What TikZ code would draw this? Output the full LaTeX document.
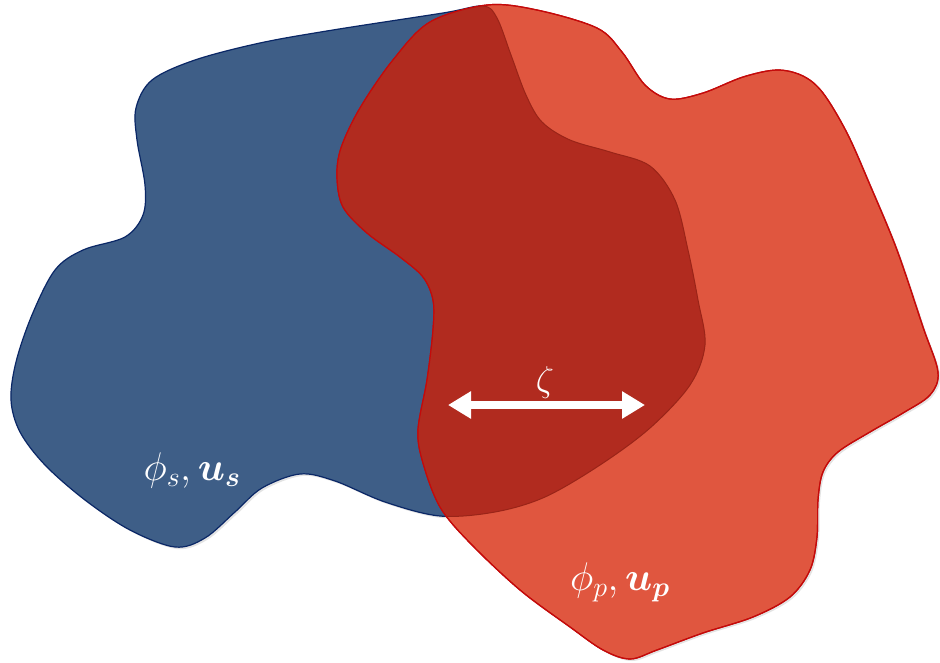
\RequirePackage{fix-cm}
\documentclass[tikz,border=0pt]{standalone}
\usepackage{amsmath,bm}
\usetikzlibrary{arrows.meta,shadows}
\definecolor{bluefill}{HTML}{3E5E87}
\definecolor{blueline}{HTML}{0A2766}
\definecolor{redfill}{HTML}{E0563F}
\definecolor{redline}{HTML}{C40A0A}
\definecolor{overlap}{HTML}{B12B1F}
\definecolor{overlapline}{HTML}{9A2418}
\tikzset{
  blob/.style={line width=1.2pt, drop shadow={opacity=0.22, shadow xshift=2pt, shadow yshift=-2pt}},
  lbl/.style={text=white, inner sep=0pt},
  zarrow/.style={white, line width=8pt, {Triangle[length=23pt,width=26pt]}-{Triangle[length=23pt,width=26pt]}}
}
\def\bluepath{plot[smooth cycle, tension=0.55] coordinates {
 (483,6) (443,13) (333,30) (260,43) (195,60) (152,80) (136,108) (137,140) (145,185) (143,215) (125,237) (83,250) (55,270) (32,315) (16,362) (11,400) (20,432) (45,465) (85,500) (130,530) (175,547) (205,538) (235,512) (262,488) (300,474) (335,481) (385,502) (440,516) (495,512) (545,497) (600,465) (650,428) (690,385) (705,345) (698,300) (688,250) (675,200) (650,166) (610,152) (570,140) (542,122) (526,95) (511,55) (497,18)}}
\def\redpath{plot[smooth cycle, tension=0.55] coordinates {
 (487,5) (537,10) (597,28) (622,52) (645,85) (670,99) (703,93) (743,77) (777,70) (803,76) (823,93) (847,133) (870,185) (897,250) (923,327) (938,372) (930,395) (903,413) (870,432) (838,452) (823,472) (818,500) (817,537) (810,570) (790,597) (753,617) (703,633) (657,650) (630,659) (603,650) (570,627) (520,590) (470,543) (440,507) (423,463) (418,430) (427,380) (433,330) (433,300) (423,277) (400,257) (367,233) (343,207) (337,177) (341,148) (360,108) (393,60) (430,22)}}
\begin{document}
\begin{tikzpicture}[x=1pt,y=-1pt]
\useasboundingbox (0,0) rectangle (940,663);
\fill[white] (0,0) rectangle (940,663);
% blue region
\draw[blob, fill=bluefill, draw=blueline] \bluepath;
% red region
\draw[blob, fill=redfill, draw=redline] \redpath;
% overlap
\begin{scope}
  \clip \redpath;
  \draw[fill=overlap, draw=overlapline, line width=1pt] \bluepath;
\end{scope}
\draw[draw=redline, line width=1.2pt] \redpath;
% labels
\node[lbl, font=\fontsize{40}{44}\selectfont] (ls) at (192,470) {$\phi_s,\bm{u}_{\bm{s}}$};
\node[lbl, font=\fontsize{40}{44}\selectfont] (lp) at (620,582) {$\phi_p,\bm{u}_{\bm{p}}$};
\node[lbl, font=\fontsize{36}{40}\selectfont] (lz) at (545,382) {$\zeta$};
\coordinate (za) at (448,405);
\coordinate (zb) at (645,405);
\draw[zarrow] (za) -- (zb);
\end{tikzpicture}
\end{document}
